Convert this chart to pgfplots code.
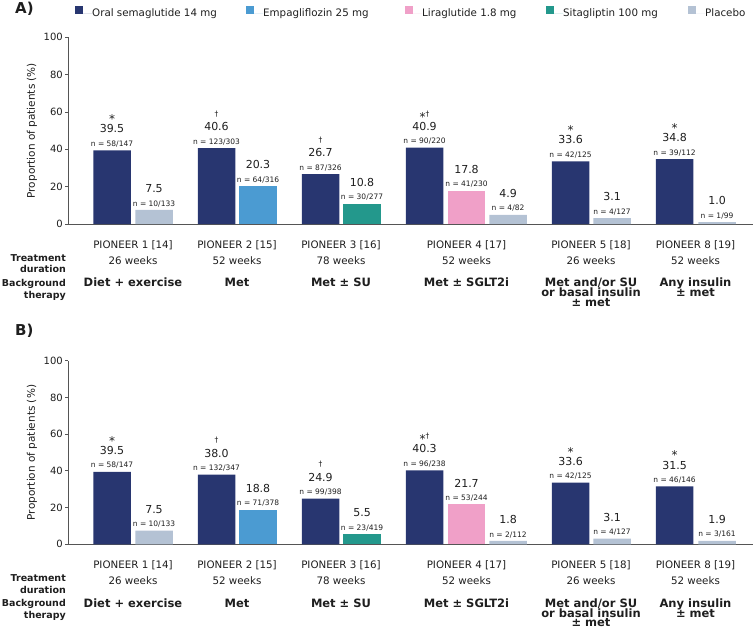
\documentclass[border=0pt]{standalone}
\usepackage{fontspec}
\setmainfont{DejaVu Sans}
\usepackage{pgfplots}
\pgfplotsset{compat=1.18}
\definecolor{sema}{RGB}{40,54,112}
\definecolor{empa}{RGB}{75,155,210}
\definecolor{lira}{RGB}{240,160,200}
\definecolor{sita}{RGB}{35,152,140}
\definecolor{plac}{RGB}{180,194,212}
\definecolor{axgrey}{RGB}{85,85,85}
\definecolor{txt}{RGB}{30,30,30}
\protected\def\rowbox#1#2#3{\vbox to #1{\vfil\hbox to 0pt{\hss\vbox to 0pt{\vss\hbox{#3}\kern0pt}\hss}\vskip #2}}
\protected\def\bl#1#2#3{\vbox{\offinterlineskip
 \rowbox{12pt}{2.4pt}{#1}%
 \rowbox{14pt}{7.0pt}{\fontsize{11}{12}\selectfont #2}%
 \rowbox{10pt}{3pt}{\fontsize{7.5}{8}\selectfont #3}}}
\protected\def\st{{\fontsize{12}{12}\selectfont *}}
\protected\def\dg{\raise5pt\hbox{\fontsize{7.5}{7.5}\selectfont †}}
\newcommand{\bb}[1]{{\bfseries\fontsize{11.5}{11}\selectfont #1}}
\newcommand{\lf}[2]{\makebox[#1][l]{\fontsize{10.3}{12}\selectfont #2}}
\pgfplotsset{
 barst/.style={ybar, bar width=37.5, bar shift=0pt, draw=none, fill=#1,
   nodes near coords, point meta=explicit symbolic,
   every node near coord/.append style={inner sep=0pt, anchor=south, text=txt}},
 common/.style={
  scale only axis, width=685pt, xmin=68, xmax=753, ymin=0, ymax=100,
  axis x line*=bottom, axis y line*=left,
  axis line style={-, draw=axgrey, line width=0.8pt},
  ytick={0,20,...,100}, tick align=outside, major tick length=3pt,
  tick style={draw=axgrey, line width=0.8pt},
  xtick={133,237,341,466.5,591,695.5}, xtick style={draw=none},
  xticklabels={
   {PIONEER 1 [14]\\26 weeks\\[6pt]\bb{Diet + exercise}},
   {PIONEER 2 [15]\\52 weeks\\[6pt]\bb{Met}},
   {PIONEER 3 [16]\\78 weeks\\[6pt]\bb{Met ± SU}},
   {PIONEER 4 [17]\\52 weeks\\[6pt]\bb{Met ± SGLT2i}},
   {PIONEER 5 [18]\\26 weeks\\[6pt]\bb{Met and/or SU}\\[-6.5pt]\bb{or basal insulin}\\[-6.5pt]\bb{± met}},
   {PIONEER 8 [19]\\52 weeks\\[6pt]\bb{Any insulin}\\[-6.5pt]\bb{± met}}},
  xticklabel style={align=center, font=\fontsize{10.3}{16.3}\selectfont, inner sep=0pt, anchor=north, yshift=-13.3pt, text=txt},
  yticklabel style={font=\fontsize{10}{12}\selectfont, inner sep=0pt, xshift=-2pt, text=txt},
  /pgf/number format/assume math mode=true,
  ylabel={Proportion of patients (\%)},
  ylabel style={at={(axis description cs:-0.0526,0.5)}, anchor=center, font=\fontsize{10.5}{12}\selectfont, text=txt},
  clip=false,
 }}
\begin{document}
\begin{tikzpicture}
\useasboundingbox (0,0) rectangle (755pt,-631pt);
\node[anchor=west, inner sep=0pt, font=\bfseries\fontsize{15}{15}\selectfont, text=txt] at (15pt,-9pt) {A)};
\begin{axis}[common, at={(68pt,-224pt)}, anchor=south west, height=186.7pt,
  legend columns=5,
  legend image code/.code={\fill[#1] (0pt,-0.2pt) rectangle (7.5pt,7.3pt); \path (0pt,0pt) -- (17pt,0pt);},
  legend style={at={(axis description cs:0.0102,1.1355)}, anchor=west, draw=none, fill=none, inner sep=0pt,
    text=txt, nodes={inner sep=0pt},
    /tikz/every even column/.append style={column sep=34pt}},
  ]
\addplot[barst=sema] coordinates {
 (112,39.5) [\bl{\st}{39.5}{n = 58/147}]
 (216.5,40.6) [\bl{\dg}{40.6}{n = 123/303}]
 (320.5,26.7) [\bl{\dg}{26.7}{n = 87/326}]
 (424.5,40.9) [\bl{\st\dg}{40.9}{n = 90/220}]
 (570.5,33.6) [\bl{\st}{33.6}{n = 42/125}]
 (674.5,34.8) [\bl{\st}{34.8}{n = 39/112}]
};
\addlegendentry{\lf{120pt}{Oral semaglutide 14 mg}}
\addplot[barst=empa] coordinates {(258,20.3) [\bl{}{20.3}{n = 64/316}]};
\addlegendentry{\lf{108pt}{Empagliflozin 25 mg}}
\addplot[barst=lira] coordinates {(466.5,17.8) [\bl{}{17.8}{n = 41/230}]};
\addlegendentry{\lf{90pt}{Liraglutide 1.8 mg}}
\addplot[barst=sita] coordinates {(362,10.8) [\bl{}{10.8}{n = 30/277}]};
\addlegendentry{\lf{91pt}{Sitagliptin 100 mg}}
\addplot[barst=plac] coordinates {
 (154,7.5) [\bl{}{7.5}{n = 10/133}]
 (508,4.9) [\bl{}{4.9}{n = 4/82}]
 (612,3.1) [\bl{}{3.1}{n = 4/127}]
 (717,1.0) [\bl{}{1.0}{n = 1/99}]
};
\addlegendentry{\lf{38pt}{Placebo}}
\end{axis}
\node[anchor=east, align=right, inner sep=0pt, font=\bfseries\fontsize{9.5}{11.3}\selectfont, text=txt] at (66pt,-263.7pt) {Treatment\\duration};
\node[anchor=east, align=right, inner sep=0pt, font=\bfseries\fontsize{9.5}{11.3}\selectfont, text=txt] at (66pt,-290pt) {Background\\therapy};
%
\node[anchor=west, inner sep=0pt, font=\bfseries\fontsize{15}{15}\selectfont, text=txt] at (15pt,-331pt) {B)};
\begin{axis}[common, at={(68pt,-544.3pt)}, anchor=south west, height=183.6pt]
\addplot[barst=sema] coordinates {
 (112,39.5) [\bl{\st}{39.5}{n = 58/147}]
 (216.5,38.0) [\bl{\dg}{38.0}{n = 132/347}]
 (320.5,24.9) [\bl{\dg}{24.9}{n = 99/398}]
 (424.5,40.3) [\bl{\st\dg}{40.3}{n = 96/238}]
 (570.5,33.6) [\bl{\st}{33.6}{n = 42/125}]
 (674.5,31.5) [\bl{\st}{31.5}{n = 46/146}]
};
\addplot[barst=empa] coordinates {(258,18.8) [\bl{}{18.8}{n = 71/378}]};
\addplot[barst=lira] coordinates {(466.5,21.7) [\bl{}{21.7}{n = 53/244}]};
\addplot[barst=sita] coordinates {(362,5.5) [\bl{}{5.5}{n = 23/419}]};
\addplot[barst=plac] coordinates {
 (154,7.5) [\bl{}{7.5}{n = 10/133}]
 (508,1.8) [\bl{}{1.8}{n = 2/112}]
 (612,3.1) [\bl{}{3.1}{n = 4/127}]
 (717,1.9) [\bl{}{1.9}{n = 3/161}]
};
\end{axis}
\node[anchor=east, align=right, inner sep=0pt, font=\bfseries\fontsize{9.5}{11.3}\selectfont, text=txt] at (66pt,-584pt) {Treatment\\duration};
\node[anchor=east, align=right, inner sep=0pt, font=\bfseries\fontsize{9.5}{11.3}\selectfont, text=txt] at (66pt,-610pt) {Background\\therapy};
\end{tikzpicture}
\end{document}
